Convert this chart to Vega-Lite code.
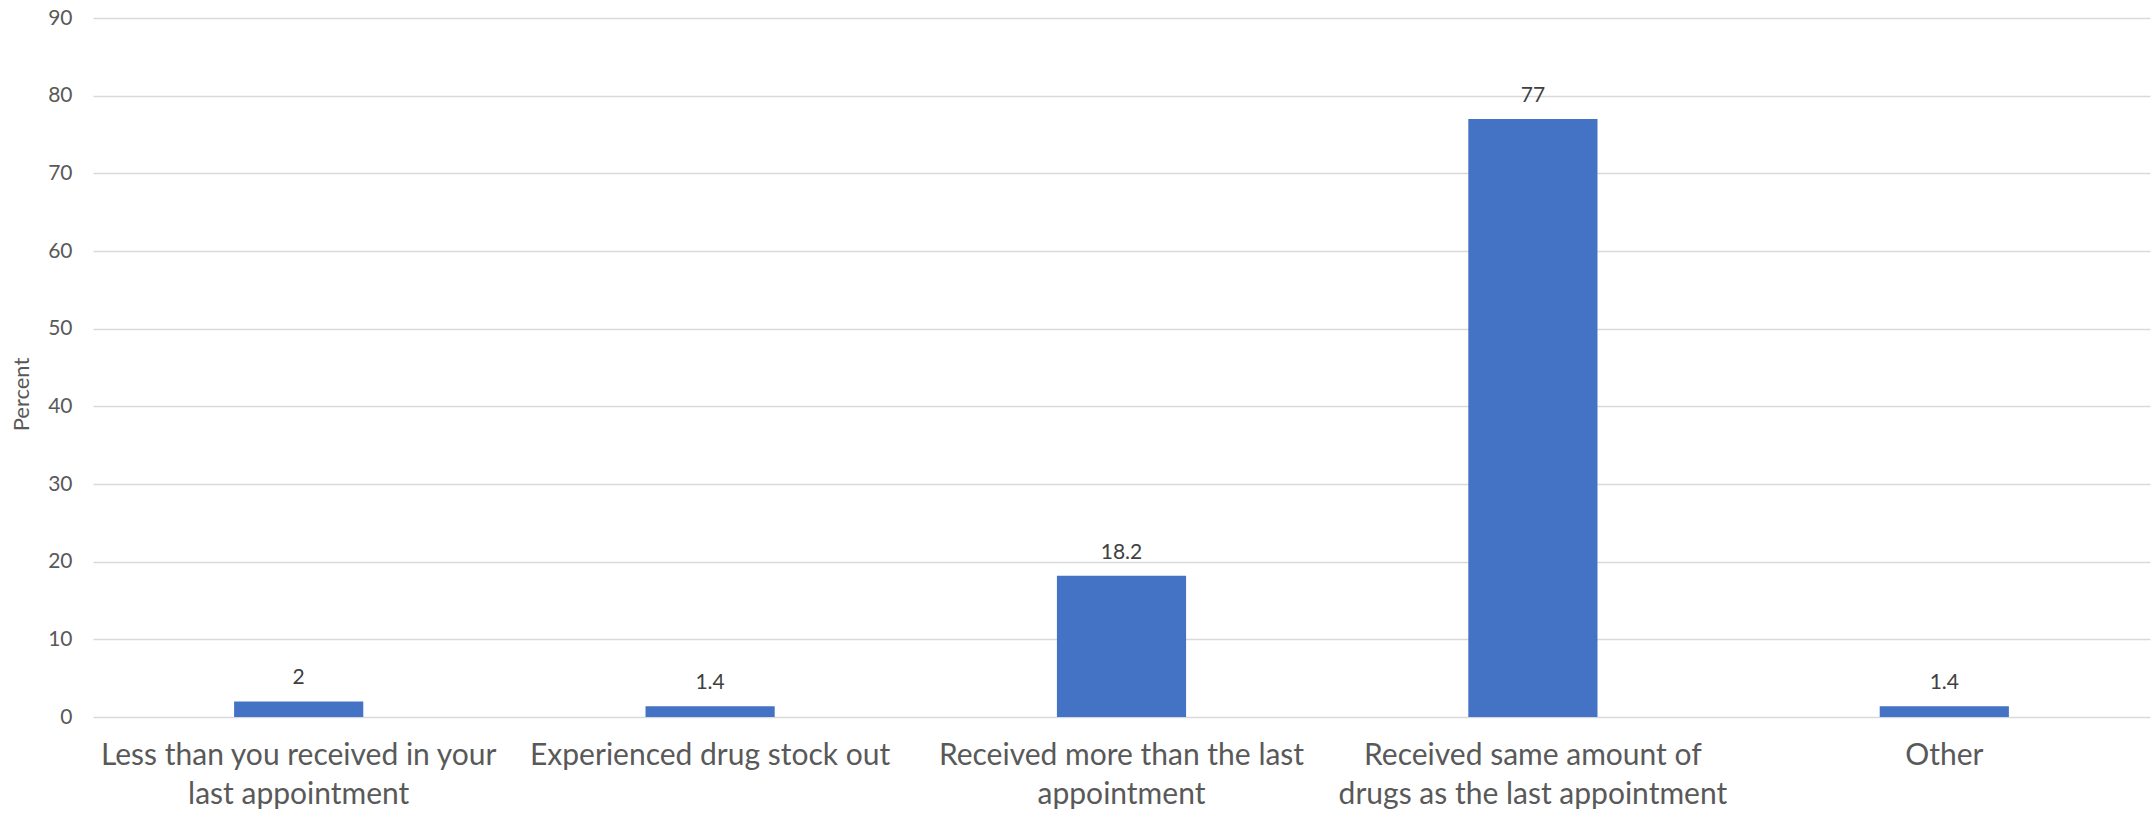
{
  "$schema": "https://vega.github.io/schema/vega-lite/v6.json",
  "width": 2057,
  "height": 699,
  "autosize": {"type": "none"},
  "padding": {"left": 93, "top": 18, "right": 3, "bottom": 96},
  "background": "white",
  "config": {"view": {"stroke": null}, "font": "Lato"},
  "data": {
    "values": [
      {"category": "Less than you received in your last appointment", "percent": 2},
      {"category": "Experienced drug stock out", "percent": 1.4},
      {"category": "Received more than the last appointment", "percent": 18.2},
      {"category": "Received same amount of drugs as the last appointment", "percent": 77},
      {"category": "Other", "percent": 1.4}
    ]
  },
  "encoding": {
    "x": {
      "field": "category",
      "type": "nominal",
      "sort": null,
      "scale": {"paddingInner": 0.686, "paddingOuter": 0.343},
      "axis": {
        "title": null,
        "labelAngle": 0,
        "domain": false,
        "ticks": false,
        "labelFont": "Lato",
        "labelFontSize": 30,
        "labelColor": "#595959",
        "labelPadding": 23,
        "labelLineHeight": 39,
        "labelLimit": 700,
        "labelExpr": "datum.value == 'Less than you received in your last appointment' ? ['Less than you received in your', 'last appointment'] : datum.value == 'Received more than the last appointment' ? ['Received more than the last', 'appointment'] : datum.value == 'Received same amount of drugs as the last appointment' ? ['Received same amount of', 'drugs as the last appointment'] : datum.value"
      }
    },
    "y": {
      "field": "percent",
      "type": "quantitative",
      "scale": {"domain": [0, 90], "nice": false},
      "axis": {
        "title": "Percent",
        "titleFont": "Lato",
        "titleFontSize": 22,
        "titleFontWeight": "normal",
        "titleColor": "#595959",
        "titleX": -60,
        "titleY": 376,
        "titleAngle": -90,
        "values": [0, 10, 20, 30, 40, 50, 60, 70, 80, 90],
        "domain": false,
        "ticks": false,
        "grid": true,
        "gridColor": "#D9D9D9",
        "gridWidth": 1.5,
        "labelFont": "Lato",
        "labelFontSize": 21,
        "labelColor": "#595959",
        "labelPadding": 21
      }
    }
  },
  "layer": [
    {"mark": {"type": "bar", "color": "#4472C4"}},
    {
      "mark": {"type": "text", "baseline": "alphabetic", "dy": -17, "fontSize": 21, "color": "#404040", "font": "Lato"},
      "encoding": {"text": {"field": "percent", "type": "quantitative"}}
    }
  ]
}
